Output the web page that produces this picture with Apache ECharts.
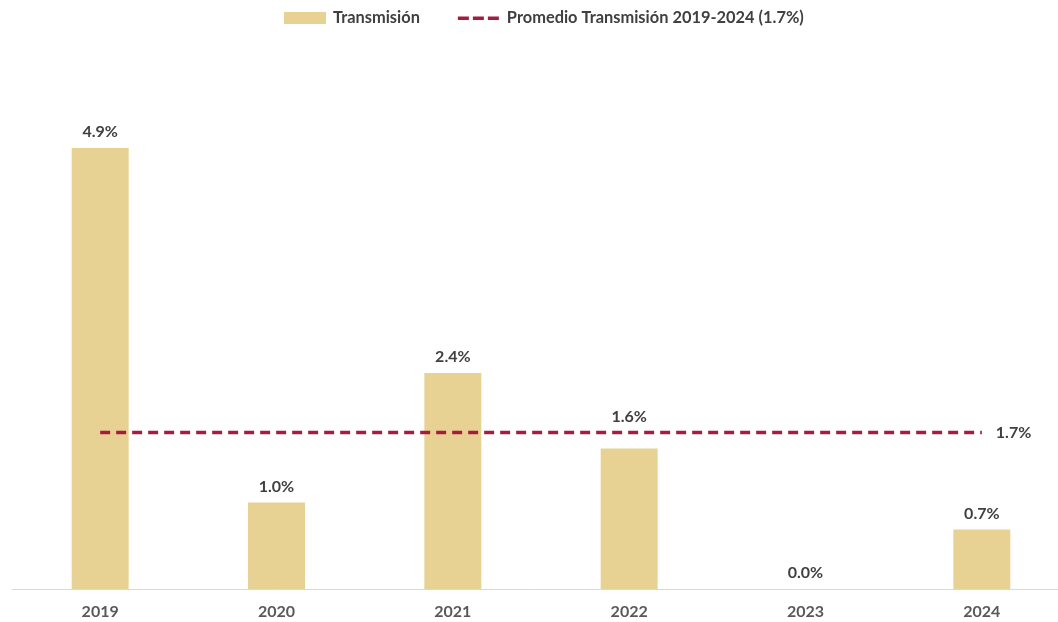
<!DOCTYPE html>
<html><head><meta charset="utf-8">
<script src="https://cdn.jsdelivr.net/npm/echarts@6/dist/echarts.min.js"></script>
<style>html,body{margin:0;padding:0;background:#fff}#c{width:1058px;height:622px}</style>
</head><body><div id="c"></div>
<script>
const categories = ['2019','2020','2021','2022','2023','2024'];
const transmision = [4.9, 0.96, 2.4, 1.56, 0.0, 0.66];
const promedioValue = 1.74;
const promedioLabel = '1.7%';
const seriesNames = ['Transmisión', 'Promedio Transmisión 2019-2024 (1.7%)'];

const chart = echarts.init(document.getElementById('c'));
const font = 'Lato, "Open Sans", sans-serif';
const red = '#A51D3E';
const gold = '#E8D293';
chart.setOption({
  animation: false,
  textStyle: {fontFamily: font},
  legend: {
    top: 5, left: 279, itemGap: 38,
    textStyle: {fontSize: 16.4, fontWeight: 'bold', color: '#404040', fontFamily: font, padding: [0, 0, 0, 2]},
    data: [
      {name: seriesNames[0], icon: 'rect', itemStyle: {color: gold}},
      {name: seriesNames[1],
       icon: 'path://M0,0M0,4.5h11v3.5h-11zM15,4.5h11v3.5h-11zM30,4.5h11v3.5h-11zM42,12',
       itemStyle: {color: red, borderWidth: 0}}
    ],
    itemWidth: 42, itemHeight: 12
  },
  grid: {left: 12, width: 1058, top: 94, bottom: 33, outerBoundsMode: 'none'},
  xAxis: {
    type: 'category', data: categories,
    axisLine: {lineStyle: {color: '#D9D9D9', width: 1}},
    axisTick: {show: false},
    axisLabel: {color: '#595959', fontSize: 16, fontWeight: 'bold', margin: 15, fontFamily: font}
  },
  yAxis: {type: 'value', min: 0, max: 5.5, show: false, splitLine: {show: false}},
  series: [
    {
      name: seriesNames[0], type: 'bar', barWidth: 57,
      data: transmision.map((v, i) => i === 3 ? {value: v, label: {distance: 24}} : v),
      itemStyle: {color: gold},
      label: {show: true, position: 'top', distance: 8, color: '#404040', fontSize: 16, fontWeight: 'bold',
        fontFamily: font, formatter: p => p.value.toFixed(1) + '%'}
    },
    {
      name: seriesNames[1], type: 'line', data: categories.map(() => promedioValue),
      symbol: 'none', z: 5,
      lineStyle: {color: red, width: 3.5, type: [10, 6]},
      itemStyle: {color: red},
      endLabel: {show: true, distance: 14, color: '#404040', fontSize: 16, fontWeight: 'bold',
        fontFamily: font, formatter: () => promedioLabel}
    }
  ]
});
</script></body></html>
